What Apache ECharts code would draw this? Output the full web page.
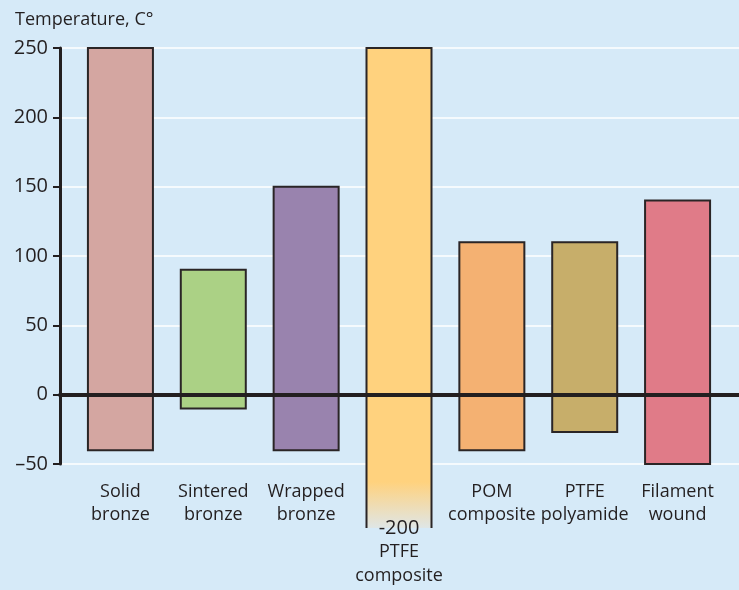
<!DOCTYPE html>
<html><head><meta charset="utf-8">
<script src="https://cdn.jsdelivr.net/npm/echarts@6/dist/echarts.min.js"></script>
<style>html,body{margin:0;padding:0;background:#d6eaf8}#c{width:739px;height:590px}</style>
</head><body><div id="c"></div>
<script>
const categories = ['Solid\nbronze','Sintered\nbronze','Wrapped\nbronze','PTFE\ncomposite','POM\ncomposite','PTFE\npolyamide','Filament\nwound'];
const highs = [250, 90, 150, 250, 110, 110, 140];
const lows = [-40, -10, -40, -200, -40, -27, -50];
const colors = ['#d4a6a1','#abd185','#9983ae','#ffd27e','#f4b172','#c7ae6a','#e07b88'];
const yTicks = [-50, 0, 50, 100, 150, 200, 250];

const FONT = 'Open Sans';
const TXT = '#231f20';
const BG = '#d6eaf8';
const yMin = yTicks[0], yMax = yTicks[yTicks.length-1];

const chart = echarts.init(document.getElementById('c'));
chart.setOption({
  backgroundColor: BG,
  animation: false,
  title: {text: 'Temperature, C°', left: 10, top: 6,
    textStyle: {fontFamily: FONT, fontSize: 18, fontWeight: 'normal', color: TXT}},
  grid: [
    {left: 60, right: 0, top: 48, bottom: 126},
    {left: 74, right: 15, top: 48, bottom: 126}
  ],
  xAxis: [
    {gridIndex: 0, type: 'value', min: 0, max: 1, z: 10,
      axisLine: {show: true, onZero: true, lineStyle: {color: TXT, width: 4}},
      axisTick: {show: false}, axisLabel: {show: false}, splitLine: {show: false}},
    {gridIndex: 1, type: 'category', data: categories, z: 12,
      axisLine: {show: false}, axisTick: {show: false},
      axisLabel: {interval: 0, margin: 16, fontFamily: FONT, fontSize: 18, lineHeight: 23, color: TXT,
        formatter: function (v, i) {
          if (lows[i] < yMin) {
            const parts = v.split('\n');
            return '{gap|}\n{b|' + lows[i] + '}\n' + parts.map(p => '{a|' + p + '}').join('\n');
          }
          return v;
        },
        rich: {gap: {height: 36, lineHeight: 36},
          b: {fontFamily: FONT, fontSize: 20, lineHeight: 24, color: TXT},
          a: {fontFamily: FONT, fontSize: 18, lineHeight: 24, color: TXT}}}}
  ],
  yAxis: [
    {gridIndex: 0, type: 'value', min: yMin, max: yMax, interval: 50,
      axisLine: {show: true, lineStyle: {color: TXT, width: 3}},
      axisTick: {show: true, length: 7, lineStyle: {color: TXT, width: 2}},
      axisLabel: {margin: 12, fontFamily: FONT, fontSize: 20, color: TXT,
        formatter: v => String(v).replace('-', '–')},
      splitLine: {show: true, lineStyle: {color: '#ffffff', width: 1.5}}},
    {gridIndex: 1, type: 'value', min: yMin, max: yMax, interval: 50, show: false}
  ],
  series: [{
    type: 'custom',
    xAxisIndex: 1, yAxisIndex: 1,
    clip: false,
    z: 5,
    data: categories.map((c, i) => [i, lows[i], highs[i]]),
    renderItem: function (params, api) {
      const i = api.value(0);
      const lo = api.value(1), hi = api.value(2);
      const w = api.size([1, 0])[0] * 0.7;
      const top = api.coord([i, hi]);
      const x0 = top[0] - w / 2, x1 = top[0] + w / 2;
      const stroke = '#2a2526';
      if (lo < yMin) {
        const yb = api.coord([i, yMin])[1] + 64;
        const yt = top[1];
        const h = yb - yt;
        const solidTo = (api.coord([i, yMin])[1] + 18 - yt) / h;
        return {type: 'group', children: [
          {type: 'rect', shape: {x: x0, y: yt, width: w, height: h},
            style: {fill: new echarts.graphic.LinearGradient(0, 0, 0, 1, [
              {offset: 0, color: colors[i]}, {offset: solidTo, color: colors[i]},
              {offset: 1, color: '#dfe6e6'}])}},
          {type: 'polyline', shape: {points: [[x0, yb], [x0, yt], [x1, yt], [x1, yb]]},
            style: {fill: null, stroke: stroke, lineWidth: 2}}
        ]};
      }
      const bot = api.coord([i, lo]);
      return {type: 'rect', shape: {x: x0, y: top[1], width: w, height: bot[1] - top[1]},
        style: {fill: colors[i], stroke: stroke, lineWidth: 2}};
    }
  }]
});
</script></body></html>
